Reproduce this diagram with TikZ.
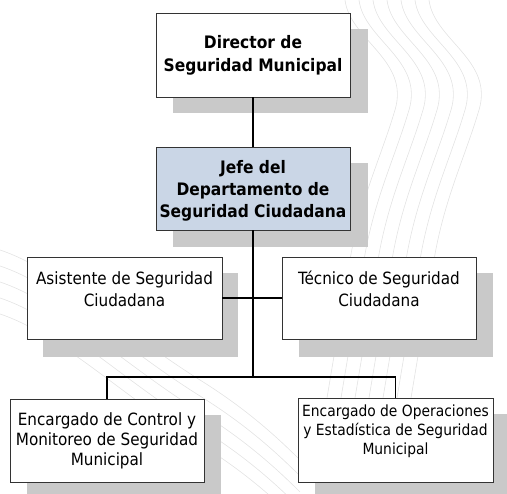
\documentclass[tikz,border=0pt]{standalone}
\usepackage{fontspec}
\setmainfont{DejaVu Sans Condensed}
\begin{document}
\begin{tikzpicture}[x=1pt,y=-1pt,
  orgbox/.style={draw=black!80, line width=0.9pt, fill=white, minimum width=#1, inner sep=0pt},
  shadowbox/.style={fill=black!21, draw=none},
  conn/.style={draw=black, line width=1.3pt},
  wm/.style={draw=black!11, line width=0.6pt},
  txt/.style={align=center, inner sep=0pt, text=black}
]
\useasboundingbox (0,0) rectangle (507,494);
% faint watermark curves
\foreach \d in {0,14,28,42,56,70,84} {
  \draw[wm] (345+\d,0) .. controls (350+\d,40) and (410+\d,60) .. (395+\d,110)
            .. controls (380+\d,160) and (360+\d,200) .. (350+\d,260)
            .. controls (340+\d,320) and (330+\d,380) .. (320+\d,440);
}
\foreach \d in {0,16,32,48,64} {
  \draw[wm] (0,250+\d) .. controls (60,270+\d) and (120,330+\d) .. (200,380+\d)
            .. controls (240,405+\d) and (270,430+\d) .. (300,460+\d);
}
% shadows
\fill[shadowbox] (173,29) rectangle (368,113);
\fill[shadowbox] (173,163) rectangle (368,247);
\fill[shadowbox] (43,273) rectangle (238,357);
\fill[shadowbox] (299,273) rectangle (493,357);
\fill[shadowbox] (27,415) rectangle (221,494);
\fill[shadowbox] (315,414) rectangle (507,494);
% boxes
\node[orgbox=194pt, minimum height=84pt] (b1) at (253,55) {};
\node[orgbox=194pt, minimum height=83pt, fill={rgb,255:red,202;green,214;blue,230}] (b2) at (253,188.5) {};
\node[orgbox=195pt, minimum height=82pt] (b3) at (124.5,298) {};
\node[orgbox=194pt, minimum height=82pt] (b4) at (379,298) {};
\node[orgbox=194pt, minimum height=83pt] (b5) at (107,440.5) {};
\node[orgbox=195pt, minimum height=84pt] (b6) at (395.5,440) {};
% texts
\node[txt, font=\fontsize{17.2}{23}\selectfont\bfseries] (t1) at (253,55) {Director de\\Seguridad Municipal};
\node[txt, font=\fontsize{17.2}{22}\selectfont\bfseries] (t2) at (253,191) {Jefe del\\Departamento de\\Seguridad Ciudadana};
\node[txt, font=\fontsize{16.9}{22.5}\selectfont] (t3) at (124.5,289) {Asistente de Seguridad\\Ciudadana};
\node[txt, font=\fontsize{16.9}{22.5}\selectfont] (t4) at (379,289) {T\'ecnico de Seguridad\\Ciudadana};
\node[txt, font=\fontsize{16.9}{20}\selectfont] (t5) at (107,441) {Encargado de Control y\\Monitoreo de Seguridad\\Municipal};
\node[txt, font=\fontsize{15.4}{19}\selectfont] (t6) at (395.5,431) {Encargado de Operaciones\\y Estad\'istica de Seguridad\\Municipal};
% connectors
\coordinate (j) at (253,377);
\draw[conn] (b1.south) -- (b2.north);
\draw[conn] (b2.south) -- (j);
\draw[conn] (b3.east) -- (b4.west);
\draw[conn] (b5.north) |- (j) -| (b6.north);
\end{tikzpicture}
\end{document}
